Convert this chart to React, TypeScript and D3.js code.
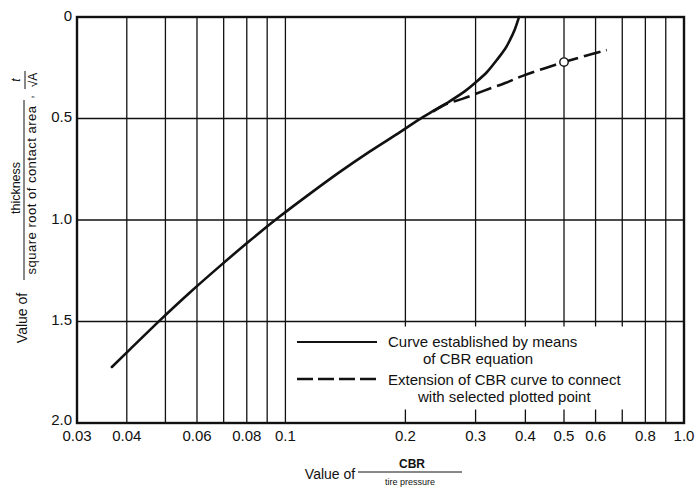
import React from 'react';
import * as d3 from 'd3';

// ---- data ----
const xGridValues = [0.03, 0.04, 0.05, 0.06, 0.07, 0.08, 0.09, 0.1, 0.2, 0.3, 0.4, 0.5, 0.6, 0.7, 0.8, 0.9, 1.0];
const xTickValues = [0.03, 0.04, 0.06, 0.08, 0.1, 0.2, 0.3, 0.4, 0.5, 0.6, 0.8, 1.0];
const xTickLabels = ['0.03', '0.04', '0.06', '0.08', '0.1', '0.2', '0.3', '0.4', '0.5', '0.6', '0.8', '1.0'];
const yTickValues = [0, 0.5, 1.0, 1.5, 2.0];
const yTickLabels = ['0', '0.5', '1.0', '1.5', '2.0'];
const yGridValues = [0.5, 1.0, 1.5];

// solid curve: CBR equation
const solidX = [0.0367, 0.0408, 0.0485, 0.0576, 0.0686, 0.0815, 0.0969, 0.1153, 0.137, 0.163, 0.1939, 0.2151, 0.2373, 0.2588, 0.2822, 0.299, 0.3205, 0.339, 0.3556, 0.366, 0.3767, 0.3834, 0.3855];
const solidY = [1.724, 1.636, 1.493, 1.357, 1.226, 1.101, 0.982, 0.87, 0.763, 0.662, 0.567, 0.508, 0.458, 0.414, 0.365, 0.325, 0.271, 0.212, 0.158, 0.113, 0.059, 0.015, 0.0];

// dashed extension to selected point
const dashedX = [0.2346, 0.251, 0.279, 0.313, 0.356, 0.394, 0.448, 0.5, 0.564, 0.64];
const dashedY = [0.466, 0.432, 0.402, 0.365, 0.325, 0.29, 0.252, 0.222, 0.192, 0.163];

const pointX = [0.5];
const pointY = [0.222];

const legendLabels = [
  ['Curve established by means', 'of CBR equation'],
  ['Extension of CBR curve to connect', 'with selected plotted point'],
];

const W = 695;
const H = 487;
const M = { left: 77, right: 684, top: 17, bottom: 423 };
const FONT = '"Liberation Sans", Arial, sans-serif';

export default function App() {
  const x = d3.scaleLog().domain([0.03, 1.0]).range([M.left, M.right]);
  const y = d3.scaleLinear().domain([0, 2.0]).range([M.top, M.bottom]);

  const line = d3
    .line<[number, number]>()
    .x((d) => x(d[0]))
    .y((d) => y(d[1]))
    .curve(d3.curveCatmullRom.alpha(0.5));

  const solidPath = line(solidX.map((v, i) => [v, solidY[i]] as [number, number])) || '';
  const dashedPath = line(dashedX.map((v, i) => [v, dashedY[i]] as [number, number])) || '';

  const stroke = '#111';

  return (
    <svg
      width={W}
      height={H}
      viewBox={`0 0 ${W} ${H}`}
      style={{ position: 'absolute', left: 0, top: 0, background: '#fff' }}
      fontFamily={FONT}
    >
      <rect x={0} y={0} width={W} height={H} fill="#fff" />

      {/* vertical grid */}
      {xGridValues.map((v) => (
        <line key={'vx' + v} x1={x(v)} x2={x(v)} y1={M.top} y2={M.bottom} stroke={stroke} strokeWidth={1.3} />
      ))}
      {/* horizontal grid */}
      {yGridValues.map((v) => (
        <line key={'hy' + v} x1={M.left} x2={M.right} y1={y(v)} y2={y(v)} stroke={stroke} strokeWidth={1.4} />
      ))}

      {/* legend background */}
      <rect x={292} y={y(1.5) + 5} width={340} height={83} fill="#fff" />

      {/* curves */}
      <path d={solidPath} fill="none" stroke={stroke} strokeWidth={2.6} strokeLinecap="round" />
      <path d={dashedPath} fill="none" stroke={stroke} strokeWidth={2.6} strokeDasharray="17,6" />
      {pointX.map((v, i) => (
        <circle key={'p' + i} cx={x(v)} cy={y(pointY[i])} r={4.2} fill="#fff" stroke={stroke} strokeWidth={1.4} />
      ))}

      {/* frame */}
      <rect
        x={M.left}
        y={M.top}
        width={M.right - M.left}
        height={M.bottom - M.top}
        fill="none"
        stroke={stroke}
        strokeWidth={2.4}
      />

      {/* y tick labels */}
      {yTickValues.map((v, i) => (
        <text
          key={'yl' + v}
          x={72}
          y={y(v) + (i === yTickValues.length - 1 ? -2 : 0)}
          textAnchor="end"
          dominantBaseline="middle"
          fontSize={15}
          fill={stroke}
        >
          {yTickLabels[i]}
        </text>
      ))}

      {/* x tick labels */}
      {xTickValues.map((v, i) => (
        <text key={'xl' + v} x={x(v)} y={441} textAnchor="middle" fontSize={15} fill={stroke}>
          {xTickLabels[i]}
        </text>
      ))}

      {/* legend */}
      <line x1={297} x2={377} y1={342} y2={342} stroke={stroke} strokeWidth={2.2} />
      <text x={388} y={347} fontSize={15} fill={stroke}>{legendLabels[0][0]}</text>
      <text x={423} y={364} fontSize={15} fill={stroke}>{legendLabels[0][1]}</text>
      <line x1={297} x2={377} y1={379} y2={379} stroke={stroke} strokeWidth={2.4} strokeDasharray="16,5" />
      <text x={388} y={385} fontSize={15} fill={stroke}>{legendLabels[1][0]}</text>
      <text x={418} y={402} fontSize={15} fill={stroke}>{legendLabels[1][1]}</text>

      {/* x axis title */}
      <text x={330} y={479} textAnchor="middle" fontSize={14} fill={stroke}>Value of</text>
      <line x1={358} x2={462} y1={472} y2={472} stroke={stroke} strokeWidth={1} />
      <text x={412} y={468} textAnchor="middle" fontSize={12} fontWeight="bold" fill={stroke}>CBR</text>
      <text x={410} y={485} textAnchor="middle" fontSize={9} fill={stroke}>tire pressure</text>

      {/* y axis title (rotated) */}
      <g>
        <text transform="translate(27,318) rotate(-90)" textAnchor="middle" fontSize={14} fill={stroke}>Value of</text>
        <line x1={24} x2={24} y1={100} y2={280} stroke={stroke} strokeWidth={1} />
        <text transform="translate(20,188) rotate(-90)" textAnchor="middle" fontSize={12.5} fill={stroke}>thickness</text>
        <text transform="translate(36,190) rotate(-90)" textAnchor="middle" fontSize={13} letterSpacing={0.5} fill={stroke}>square root of contact area</text>
        <text transform="translate(33,97) rotate(-90)" textAnchor="middle" fontSize={12.5} fill={stroke}>,</text>
        <line x1={25} x2={25} y1={71} y2={89} stroke={stroke} strokeWidth={1} />
        <text transform="translate(20,80) rotate(-90)" textAnchor="middle" fontSize={12} fontStyle="italic" fill={stroke}>t</text>
        <text transform="translate(37,80) rotate(-90)" textAnchor="middle" fontSize={12} fill={stroke}>√A</text>
      </g>
    </svg>
  );
}
